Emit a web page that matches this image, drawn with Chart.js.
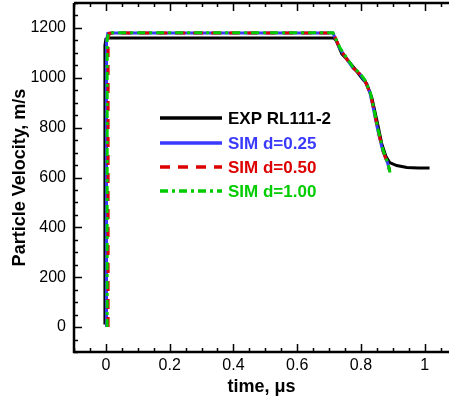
<!DOCTYPE html>
<html>
<head>
<meta charset="utf-8">
<script src="https://cdn.jsdelivr.net/npm/chart.js@4"></script>
<style>
  html, body { margin: 0; padding: 0; background: #fff; }
  #wrap { width: 449px; height: 403px; position: relative; }
</style>
</head>
<body>
<div id="wrap"><canvas id="chart"></canvas></div>
<script>
// data
const expTime = [-0.003, -0.003, 0.0, 0.01, 0.715, 0.722, 0.740, 0.755, 0.781, 0.802, 0.818, 0.834, 0.850, 0.865, 0.878, 0.890, 0.912, 0.944, 0.980, 1.015];
const expVel  = [10, 1130, 1155, 1160, 1160, 1150, 1096, 1076, 1036, 1000, 976, 920, 828, 736, 685, 660, 648, 640, 638, 638];

const sim025Time = [0.002, 0.002, 0.006, 0.02, 0.712, 0.734, 0.755, 0.774, 0.796, 0.812, 0.828, 0.837, 0.853, 0.868, 0.884, 0.890];
const sim025Vel  = [0, 1150, 1178, 1180, 1180, 1116, 1076, 1040, 1016, 988, 940, 888, 788, 708, 656, 625];

const sim050Time = [0.007, 0.007, 0.010, 0.02, 0.713, 0.735, 0.756, 0.775, 0.797, 0.813, 0.829, 0.838, 0.854, 0.869, 0.885, 0.890];
const sim050Vel  = [0, 1150, 1178, 1180, 1180, 1114, 1074, 1040, 1014, 986, 938, 886, 786, 706, 652, 628];

const sim100Time = [0.004, 0.004, 0.008, 0.02, 0.712, 0.735, 0.756, 0.775, 0.797, 0.813, 0.829, 0.838, 0.854, 0.869, 0.885, 0.891];
const sim100Vel  = [0, 1150, 1180, 1181, 1181, 1118, 1078, 1042, 1018, 990, 942, 890, 790, 710, 655, 620];

const seriesNames = ['EXP RL111-2', 'SIM d=0.25', 'SIM d=0.50', 'SIM d=1.00'];
const seriesColors = ['#000000', '#3a3aff', '#dd0000', '#00cc00'];
const seriesDash = [[], [], [10, 8], [8, 4, 3, 4]];

const xTickValues = [0, 0.2, 0.4, 0.6, 0.8, 1];
const xTickLabels = ['0', '0.2', '0.4', '0.6', '0.8', '1'];
const yTickValues = [0, 200, 400, 600, 800, 1000, 1200];

function toPoints(xs, ys){
    return xs.map((x, i) => ({x: x, y: ys[i]}));
}

// frame, inward ticks and the legend box
const framePlugin = {
    id: 'frame',
    afterDraw(chart){
        const ctx = chart.ctx;
        const a = chart.chartArea;
        const xs = chart.scales.x;
        const ys = chart.scales.y;
        ctx.save();
        ctx.strokeStyle = '#000';
        ctx.lineWidth = 2.5;
        ctx.beginPath();
        ctx.moveTo(a.left, a.top);
        ctx.lineTo(a.left, a.bottom);
        ctx.lineTo(a.right + 2, a.bottom);
        ctx.moveTo(a.left, a.top);
        ctx.lineTo(a.right + 2, a.top);
        ctx.stroke();

        ctx.lineWidth = 1.5;
        ctx.beginPath();
        for (let v = -0.1; v <= xs.max + 1e-9; v += 0.05) {
            const px = Math.round(xs.getPixelForValue(v)) + 0.5;
            const major = Math.abs(v / 0.2 - Math.round(v / 0.2)) < 1e-6;
            const len = major ? 8 : 4;
            ctx.moveTo(px, a.bottom);
            ctx.lineTo(px, a.bottom - len);
            ctx.moveTo(px, a.top);
            ctx.lineTo(px, a.top + len);
        }
        for (let v = -100; v <= 1300; v += 50) {
            const py = Math.round(ys.getPixelForValue(v)) + 0.5;
            const major = v % 200 === 0;
            const len = major ? 8 : 4;
            ctx.moveTo(a.left, py);
            ctx.lineTo(a.left + len, py);
        }
        ctx.stroke();

        // legend
        const lx0 = 160, lx1 = 222, tx = 228;
        const rows = [118, 143, 167, 191];
        ctx.font = 'bold 17px "Liberation Sans", Arial, sans-serif';
        ctx.textBaseline = 'middle';
        ctx.textAlign = 'left';
        seriesNames.forEach((name, i) => {
            ctx.strokeStyle = seriesColors[i];
            ctx.lineWidth = 3.5;
            ctx.setLineDash(seriesDash[i]);
            ctx.beginPath();
            ctx.moveTo(lx0, rows[i]);
            ctx.lineTo(lx1, rows[i]);
            ctx.stroke();
            ctx.setLineDash([]);
            ctx.fillStyle = seriesColors[i];
            ctx.fillText(name, tx, rows[i] + 1);
        });
        ctx.restore();
    }
};

const allTimes = [expTime, sim025Time, sim050Time, sim100Time];
const allVels = [expVel, sim025Vel, sim050Vel, sim100Vel];
const drawOrder = [4, 3, 2, 1];

const datasets = seriesNames.map((name, i) => ({
    label: name,
    data: toPoints(allTimes[i], allVels[i]),
    showLine: true,
    borderColor: seriesColors[i],
    borderWidth: 3,
    borderDash: seriesDash[i],
    pointRadius: 0,
    tension: 0,
    fill: false,
    order: drawOrder[i]
}));

new Chart(document.querySelector('#chart'), {
    type: 'scatter',
    data: {datasets: datasets},
    plugins: [framePlugin],
    options: {
        responsive: true,
        maintainAspectRatio: false,
        animation: false,
        layout: {padding: {top: 3, right: 0, left: 0, bottom: 0}},
        plugins: {legend: {display: false}, tooltip: {enabled: false}},
        scales: {
            x: {
                type: 'linear',
                min: -0.1,
                max: 1.076,
                grid: {display: false, drawTicks: false},
                border: {display: false},
                afterFit: (s) => { s.height = 51; s.paddingLeft = 0; s.paddingRight = 0; },
                afterBuildTicks: (s) => { s.ticks = xTickValues.map(v => ({value: v})); },
                ticks: {
                    padding: 4,
                    color: '#000',
                    font: {family: '"Liberation Sans", Arial, sans-serif', size: 16},
                    callback: (v) => xTickLabels[xTickValues.indexOf(v)]
                },
                title: {
                    display: true,
                    text: 'time, μs',
                    color: '#000',
                    padding: {top: 0, bottom: 5},
                    font: {family: '"Liberation Sans", Arial, sans-serif', size: 18, weight: 'bold'}
                }
            },
            y: {
                type: 'linear',
                min: -100,
                max: 1300,
                grid: {display: false, drawTicks: false},
                border: {display: false},
                afterFit: (s) => { s.width = 74; s.paddingTop = 0; s.paddingBottom = 0; },
                afterBuildTicks: (s) => { s.ticks = yTickValues.map(v => ({value: v})); },
                ticks: {
                    padding: 8,
                    color: '#000',
                    font: {family: '"Liberation Sans", Arial, sans-serif', size: 16},
                    callback: (v) => String(v)
                },
                title: {
                    display: true,
                    text: 'Particle Velocity, m/s',
                    color: '#000',
                    padding: {top: 9, bottom: 0},
                    font: {family: '"Liberation Sans", Arial, sans-serif', size: 18, weight: 'bold'}
                }
            }
        }
    }
});
</script>
</body>
</html>
